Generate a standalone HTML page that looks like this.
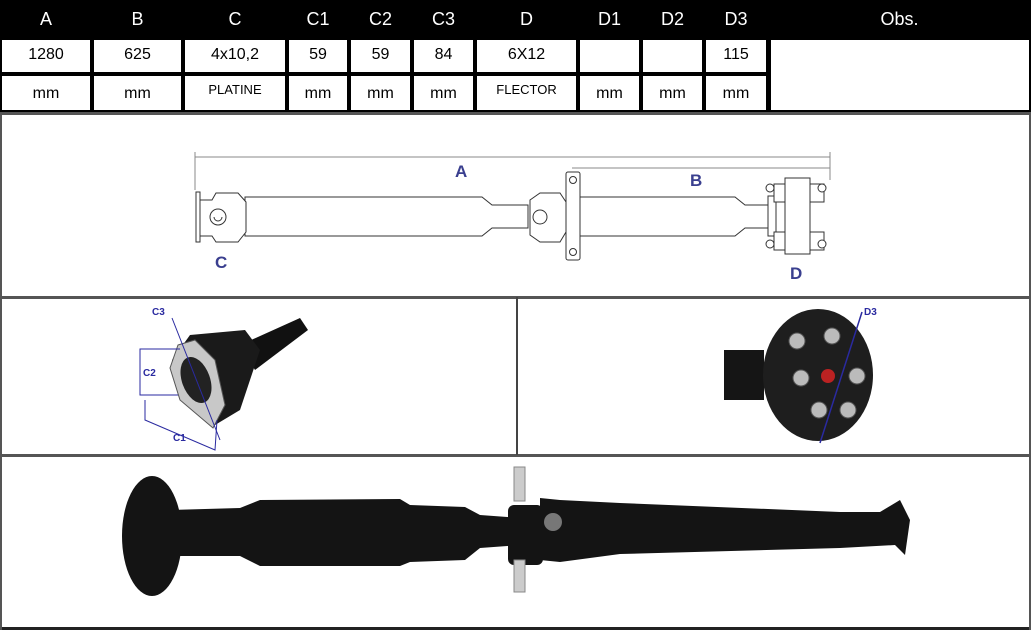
<!DOCTYPE html>
<html><head><meta charset="utf-8"><style>
html,body{margin:0;padding:0;background:#fff;}
body{width:1031px;height:630px;position:relative;overflow:hidden;font-family:"Liberation Sans",sans-serif;}
.c{position:absolute;box-sizing:border-box;display:flex;align-items:center;justify-content:center;font-size:16px;color:#000;font-family:"Liberation Sans Narrow","Liberation Sans",sans-serif;}
.h{color:#fff;font-size:18px;}
</style></head><body>
<div style="position:absolute;left:0;top:0;width:1031px;height:39px;background:#000"></div>
<div style="position:absolute;left:0;top:38px;width:770px;height:75px;background:#000"></div>
<div style="position:absolute;left:768px;top:38px;width:263px;height:75px;background:#000"></div>
<svg width="1031" height="630" style="position:absolute;left:0;top:0" xmlns="http://www.w3.org/2000/svg">
<!-- table cells -->
<g fill="#fff">
<rect x="2" y="40" width="88" height="32"/><rect x="94" y="40" width="87" height="32"/><rect x="185" y="40" width="100" height="32"/>
<rect x="289" y="40" width="58" height="32"/><rect x="351" y="40" width="59" height="32"/><rect x="414" y="40" width="59" height="32"/>
<rect x="477" y="40" width="99" height="32"/><rect x="580" y="40" width="59" height="32"/><rect x="643" y="40" width="59" height="32"/><rect x="706" y="40" width="60" height="32"/>
<rect x="2" y="76" width="88" height="34"/><rect x="94" y="76" width="87" height="34"/><rect x="185" y="76" width="100" height="34"/>
<rect x="289" y="76" width="58" height="34"/><rect x="351" y="76" width="59" height="34"/><rect x="414" y="76" width="59" height="34"/>
<rect x="477" y="76" width="99" height="34"/><rect x="580" y="76" width="59" height="34"/><rect x="643" y="76" width="59" height="34"/><rect x="706" y="76" width="60" height="34"/>
<rect x="771" y="40" width="258" height="70"/>
<rect x="2" y="114" width="1027" height="181"/>
<rect x="2" y="300" width="513" height="153"/><rect x="519" y="300" width="510" height="153"/>
<rect x="2" y="458" width="1027" height="170"/>
</g>
<rect x="0" y="112" width="1031" height="3" fill="#555"/>
<rect x="0" y="296" width="1031" height="3" fill="#555"/>
<rect x="0" y="454" width="1031" height="3" fill="#555"/>
<rect x="0" y="627" width="1031" height="3" fill="#222"/>
<rect x="0" y="112" width="2" height="518" fill="#555"/><rect x="1029" y="112" width="2" height="518" fill="#555"/>
<rect x="516" y="297" width="2" height="158" fill="#444"/>

<!-- line drawing -->
<g stroke="#333" stroke-width="1" fill="#fff">
<line x1="195" y1="157" x2="830" y2="157" stroke="#888"/>
<line x1="195" y1="152" x2="195" y2="190" stroke="#888"/>
<line x1="830" y1="152" x2="830" y2="180" stroke="#888"/>
<line x1="572" y1="168" x2="830" y2="168" stroke="#888"/>
<path d="M245 197 L482 197 L492 205 L528 205 L528 228 L492 228 L482 236 L245 236 Z"/>
<path d="M580 197 L735 197 L745 205 L770 205 L770 228 L745 228 L735 236 L580 236 Z"/>
<rect x="196" y="192" width="4" height="50"/>
<path d="M200 200 L212 200 L216 193 L238 193 L246 202 L246 232 L238 242 L216 242 L212 236 L200 236 Z"/>
<circle cx="218" cy="217" r="8"/><path d="M214 217 a4 4 0 1 0 8 0"/>
<path d="M530 200 L540 193 L560 193 L566 202 L566 232 L560 242 L540 242 L530 235 Z"/>
<circle cx="540" cy="217" r="7"/>
<rect x="566" y="172" width="14" height="88" rx="2"/>
<circle cx="573" cy="180" r="3.5"/><circle cx="573" cy="252" r="3.5"/>
<rect x="768" y="196" width="8" height="40"/>
<rect x="774" y="184" width="18" height="18"/><rect x="774" y="232" width="18" height="18"/>
<rect x="808" y="184" width="16" height="18"/><rect x="808" y="232" width="16" height="18"/>
<rect x="785" y="178" width="25" height="76"/>
<circle cx="770" cy="188" r="4"/><circle cx="770" cy="244" r="4"/><circle cx="822" cy="188" r="4"/><circle cx="822" cy="244" r="4"/>
</g>
<g fill="#3a3f8f" font-family="Liberation Sans,sans-serif" font-weight="bold" font-size="17">
<text x="455" y="177">A</text><text x="690" y="186">B</text><text x="215" y="268">C</text><text x="790" y="279">D</text>
</g>

<!-- panel 2 left photo -->
<g>
<path d="M240 345 L300 318 L308 330 L255 370 Z" fill="#111"/>
<path d="M190 335 L245 330 L260 350 L240 410 L215 425 L185 395 L172 360 Z" fill="#1a1a1a"/>
<path d="M178 345 L195 340 L215 360 L225 405 L213 428 L180 400 L170 368 Z" fill="#c8c8c8" stroke="#555"/>
<ellipse cx="196" cy="380" rx="14" ry="24" fill="#222" transform="rotate(-20 196 380)"/>
</g>
<g stroke="#2a2aa0" stroke-width="1" fill="none">
<line x1="172" y1="318" x2="220" y2="440"/>
<path d="M180 349 L140 349 L140 395 L178 395"/>
<path d="M145 400 L145 420 L215 450 L217 420"/>
</g>
<g fill="#2a2aa0" font-family="Liberation Sans,sans-serif" font-weight="bold" font-size="10">
<text x="152" y="315">C3</text><text x="143" y="376">C2</text><text x="173" y="441">C1</text>
</g>
<!-- panel 2 right photo -->
<rect x="724" y="350" width="40" height="50" fill="#151515"/>
<ellipse cx="818" cy="375" rx="55" ry="66" fill="#1e1e1e"/>
<g fill="#bbb" stroke="#555">
<circle cx="797" cy="341" r="8"/><circle cx="832" cy="336" r="8"/><circle cx="801" cy="378" r="8"/><circle cx="857" cy="376" r="8"/><circle cx="819" cy="410" r="8"/><circle cx="848" cy="410" r="8"/>
</g>
<circle cx="828" cy="376" r="7" fill="#b22"/>
<line x1="862" y1="312" x2="820" y2="443" stroke="#2a2aa0" stroke-width="1.5"/>
<text x="864" y="315" fill="#2a2aa0" font-family="Liberation Sans,sans-serif" font-weight="bold" font-size="10">D3</text>

<!-- panel 3 photo -->
<g fill="#141414">
<ellipse cx="152" cy="536" rx="30" ry="60"/>
<path d="M170 510 L240 508 L260 500 L400 499 L410 505 L465 507 L480 515 L520 518 L520 545 L480 548 L465 560 L410 562 L400 566 L260 566 L240 556 L170 556 Z"/>
<path d="M540 498 L560 500 L620 503 L840 512 L880 512 L900 500 L910 520 L905 555 L895 545 L840 548 L620 554 L560 562 L540 560 Z"/>
<rect x="508" y="505" width="35" height="60" rx="6"/>
</g>
<rect x="514" y="467" width="11" height="34" fill="#ccc" stroke="#888"/>
<rect x="514" y="560" width="11" height="32" fill="#ccc" stroke="#888"/>
<circle cx="553" cy="522" r="9" fill="#777"/>
</svg>
<!-- header text -->
<div class="c h" style="left:0;top:0;width:92px;height:38px">A</div>
<div class="c h" style="left:92px;top:0;width:91px;height:38px">B</div>
<div class="c h" style="left:183px;top:0;width:104px;height:38px">C</div>
<div class="c h" style="left:287px;top:0;width:62px;height:38px">C1</div>
<div class="c h" style="left:349px;top:0;width:63px;height:38px">C2</div>
<div class="c h" style="left:412px;top:0;width:63px;height:38px">C3</div>
<div class="c h" style="left:475px;top:0;width:103px;height:38px">D</div>
<div class="c h" style="left:578px;top:0;width:63px;height:38px">D1</div>
<div class="c h" style="left:641px;top:0;width:63px;height:38px">D2</div>
<div class="c h" style="left:704px;top:0;width:64px;height:38px">D3</div>
<div class="c h" style="left:768px;top:0;width:263px;height:38px">Obs.</div>
<div class="c" style="left:0;top:38px;width:92px;height:34px">1280</div>
<div class="c" style="left:92px;top:38px;width:91px;height:34px">625</div>
<div class="c" style="left:183px;top:38px;width:104px;height:34px">4x10,2</div>
<div class="c" style="left:287px;top:38px;width:62px;height:34px">59</div>
<div class="c" style="left:349px;top:38px;width:63px;height:34px">59</div>
<div class="c" style="left:412px;top:38px;width:63px;height:34px">84</div>
<div class="c" style="left:475px;top:38px;width:103px;height:34px">6X12</div>
<div class="c" style="left:704px;top:38px;width:64px;height:34px">115</div>
<div class="c" style="left:0;top:76px;width:92px;height:36px">mm</div>
<div class="c" style="left:92px;top:76px;width:91px;height:36px">mm</div>
<div class="c" style="left:183px;top:74px;width:104px;height:30px;font-size:13px">PLATINE</div>
<div class="c" style="left:287px;top:76px;width:62px;height:36px">mm</div>
<div class="c" style="left:349px;top:76px;width:63px;height:36px">mm</div>
<div class="c" style="left:412px;top:76px;width:63px;height:36px">mm</div>
<div class="c" style="left:475px;top:74px;width:103px;height:30px;font-size:13px">FLECTOR</div>
<div class="c" style="left:578px;top:76px;width:63px;height:36px">mm</div>
<div class="c" style="left:641px;top:76px;width:63px;height:36px">mm</div>
<div class="c" style="left:704px;top:76px;width:64px;height:36px">mm</div>
</body></html>
